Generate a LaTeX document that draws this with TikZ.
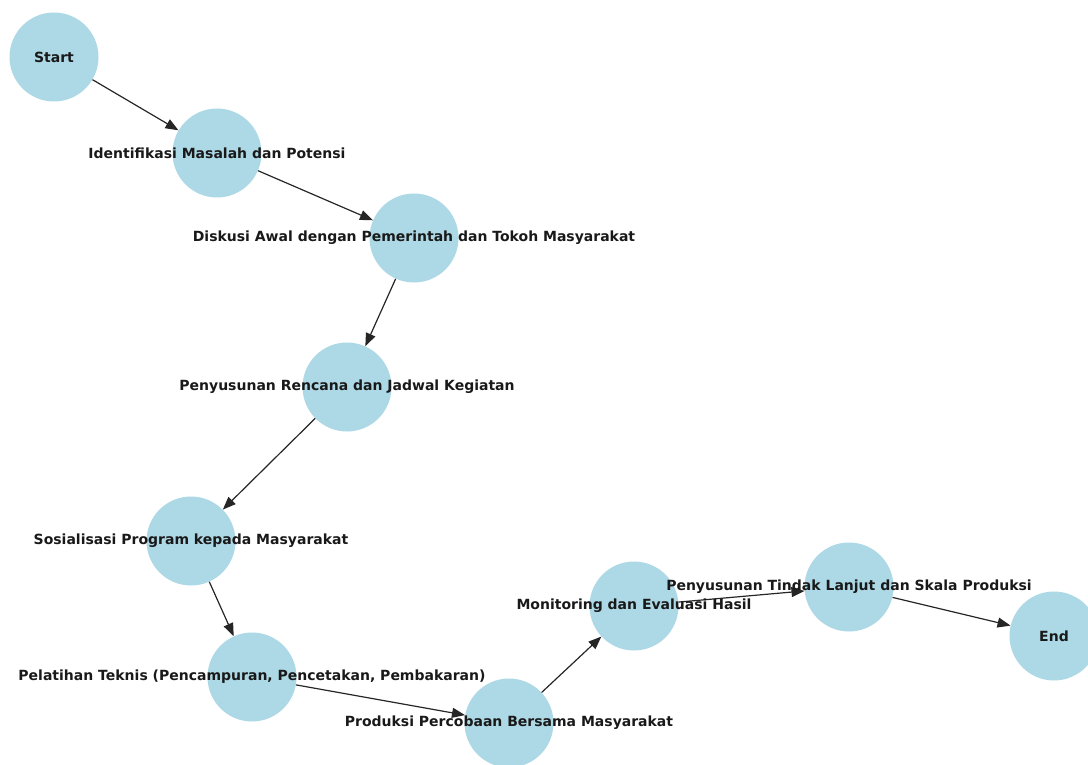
\documentclass[tikz,border=0pt]{standalone}
\usepackage{fontspec}
\setmainfont{DejaVu Sans}
\usetikzlibrary{arrows.meta}
\definecolor{nodeblue}{HTML}{ADD8E6}
\tikzset{
  stepcircle/.style={circle, fill=nodeblue, draw=none, minimum size=89pt, inner sep=0pt},
  steplabel/.style={font=\fontsize{14}{16}\selectfont\bfseries, text=black!90, inner sep=0pt},
  flow/.style={-{Triangle[length=13pt,width=10pt]}, line width=1.2pt, black!85}
}
\begin{document}
\begin{tikzpicture}[x=1pt,y=-1pt]
\useasboundingbox (0,0) rectangle (1088,765);
\clip (0,0) rectangle (1088,765);
\node[stepcircle] (s)  at (54,57) {};
\node[stepcircle] (n1) at (217,153) {};
\node[stepcircle] (n2) at (414,238) {};
\node[stepcircle] (n3) at (347,387) {};
\node[stepcircle] (n4) at (191,541) {};
\node[stepcircle] (n5) at (252,677) {};
\node[stepcircle] (n6) at (509,723) {};
\node[stepcircle] (n7) at (634,606) {};
\node[stepcircle] (n8) at (849,587) {};
\node[stepcircle] (e)  at (1054,636) {};
\draw[flow] (s) -- (n1);
\draw[flow] (n1) -- (n2);
\draw[flow] (n2) -- (n3);
\draw[flow] (n3) -- (n4);
\draw[flow] (n4) -- (n5);
\draw[flow] (n5) -- (n6);
\draw[flow] (n6) -- (n7);
\draw[flow] (n7) -- (n8);
\draw[flow] (n8) -- (e);
\node[steplabel] (ls)  at (s)  {Start};
\node[steplabel] (l1)  at (n1) {Identifikasi Masalah dan Potensi};
\node[steplabel] (l2)  at (n2) {Diskusi Awal dengan Pemerintah dan Tokoh Masyarakat};
\node[steplabel] (l3)  at (n3) {Penyusunan Rencana dan Jadwal Kegiatan};
\node[steplabel] (l4)  at (n4) {Sosialisasi Program kepada Masyarakat};
\node[steplabel] (l5)  at (n5) {Pelatihan Teknis (Pencampuran, Pencetakan, Pembakaran)};
\node[steplabel] (l6)  at (n6) {Produksi Percobaan Bersama Masyarakat};
\node[steplabel] (l7)  at (n7) {Monitoring dan Evaluasi Hasil};
\node[steplabel] (l8)  at (n8) {Penyusunan Tindak Lanjut dan Skala Produksi};
\node[steplabel] (le)  at (e)  {End};
\end{tikzpicture}
\end{document}
